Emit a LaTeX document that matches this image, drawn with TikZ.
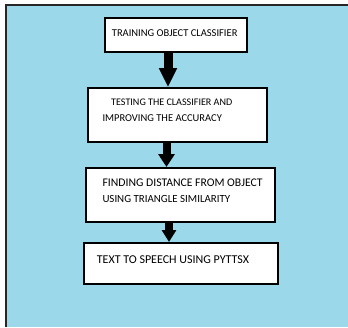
\documentclass[tikz,border=0pt]{standalone}
\usepackage{fontspec}
\setmainfont{Carlito}
\usetikzlibrary{arrows.meta}
\definecolor{skyfill}{HTML}{9BD9EA}
\tikzset{
  stepbox/.style={draw=black, line width=2pt, fill=white, rectangle, inner sep=0pt},
  steptext/.style={anchor=base west, inner sep=0pt, font=\fontsize{#1}{13}\selectfont},
}
\begin{document}
\begin{tikzpicture}[x=1pt,y=-1pt]
\useasboundingbox (0,0) rectangle (348,327);
\fill[skyfill] (6,5) rectangle (349,327);
\draw[line width=2.5pt, black!85] (6.2,327) -- (6.2,5) -- (349,5);
\node[stepbox, minimum width=142pt, minimum height=34pt] (b1) at (176,35.3) {};
\node[stepbox, minimum width=179pt, minimum height=53.5pt] (b2) at (177.5,114.8) {};
\node[stepbox, minimum width=189pt, minimum height=54pt] (b3) at (180.5,195) {};
\node[stepbox, minimum width=194pt, minimum height=41pt] (b4) at (181,263.5) {};
\node[steptext=10.5] (t1) at (111.7,36) {TRAINING OBJECT CLASSIFIER};
\node[steptext=10.1] (t2a) at (111,105) {TESTING THE CLASSIFIER AND};
\node[steptext=10.5] (t2b) at (102.3,121) {IMPROVING THE ACCURACY};
\node[steptext=11.7] (t3a) at (102.3,186.5) {FINDING DISTANCE FROM OBJECT};
\node[steptext=10.9] (t3b) at (102.3,202.5) {USING TRIANGLE SIMILARITY};
\node[steptext=12] (t4) at (96.7,263) {TEXT TO SPEECH USING PYTTSX};
\draw[line width=9pt, -{Triangle[width=17pt,length=19pt]}] ([xshift=-8pt,yshift=1pt]b1.south) -- ([xshift=-9.5pt]b2.north);
\draw[line width=8pt, -{Triangle[width=16pt,length=13pt]}] ([xshift=-11pt,yshift=1pt]b2.south) -- ([xshift=-14pt]b3.north);
\draw[line width=8pt, -{Triangle[width=14pt,length=12pt]}] ([xshift=-11.5pt,yshift=1pt]b3.south) -- ([xshift=-12pt]b4.north);
\end{tikzpicture}
\end{document}
